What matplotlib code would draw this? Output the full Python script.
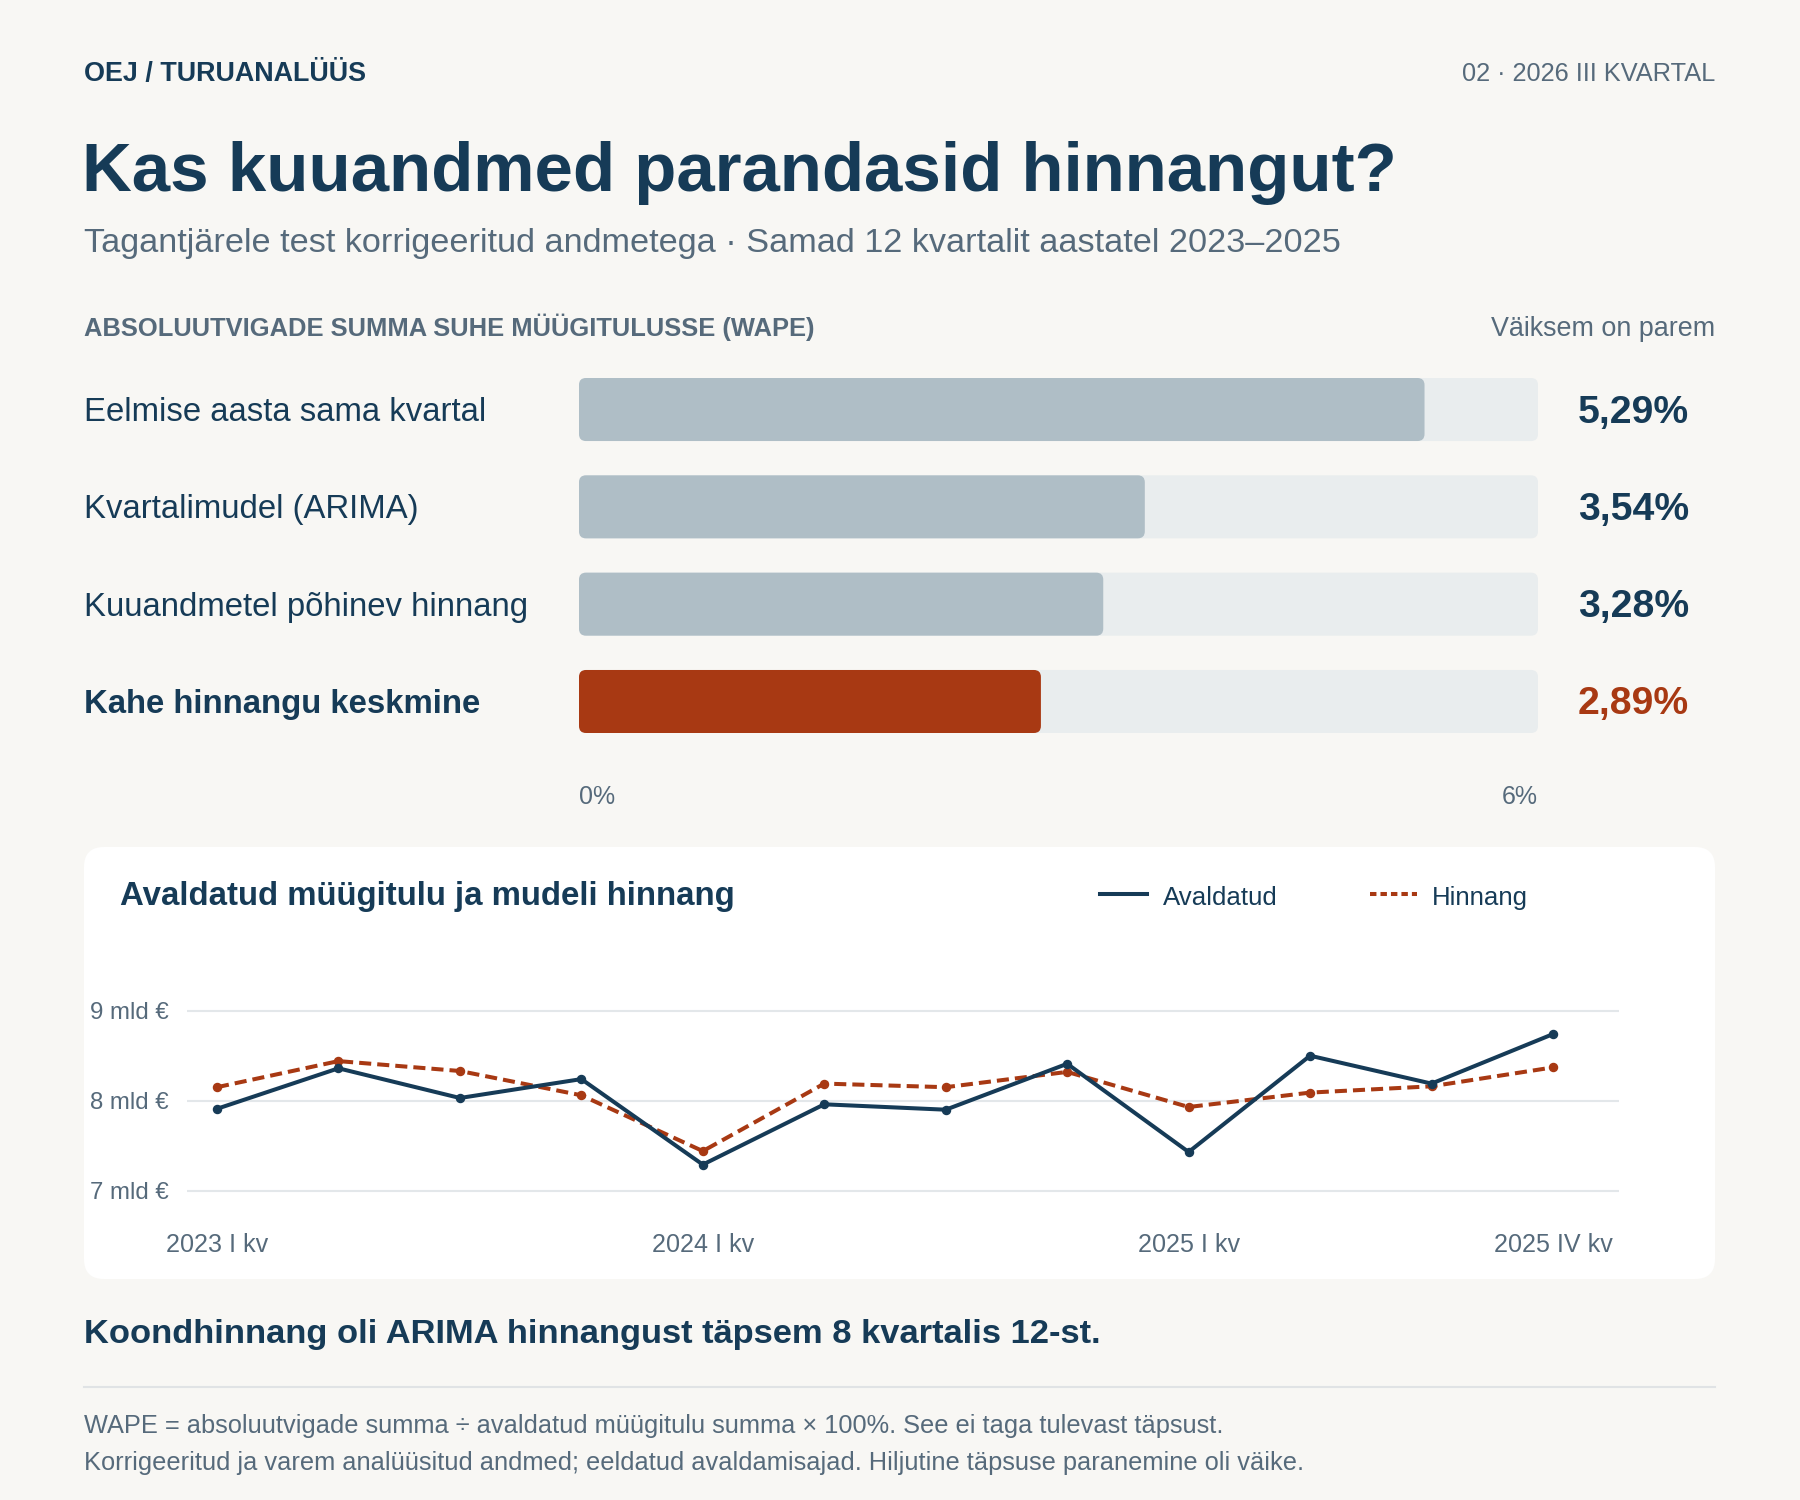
import matplotlib
matplotlib.use("Agg")
import matplotlib.pyplot as plt
from matplotlib.patches import FancyBboxPatch
from matplotlib.transforms import blended_transform_factory
from matplotlib.lines import Line2D

plt.rcParams['font.family'] = ['Liberation Sans', 'DejaVu Sans']

# --- data ---
methods = ["Eelmise aasta sama kvartal", "Kvartalimudel (ARIMA)",
           "Kuuandmetel põhinev hinnang", "Kahe hinnangu keskmine"]
wape = [5.29, 3.54, 3.28, 2.89]
wape_labels = ["5,29%", "3,54%", "3,28%", "2,89%"]
wape_max = 6

quarters = ["2023 I kv", "2023 II kv", "2023 III kv", "2023 IV kv",
            "2024 I kv", "2024 II kv", "2024 III kv", "2024 IV kv",
            "2025 I kv", "2025 II kv", "2025 III kv", "2025 IV kv"]
published = [7.91, 8.36, 8.03, 8.24, 7.29, 7.96, 7.90, 8.41, 7.43, 8.50, 8.19, 8.74]
estimate = [8.15, 8.44, 8.33, 8.06, 7.44, 8.19, 8.15, 8.32, 7.93, 8.09, 8.16, 8.37]
shown_ticks = [0, 4, 8, 11]
y_ticks = [7, 8, 9]
y_labels = ["7 mld €", "8 mld €", "9 mld €"]

# --- colours ---
BG = "#f8f7f4"
NAVY = "#163b57"
ORANGE = "#a83913"
GREY_TXT = "#566a7b"
BAR_GREY = "#afbec6"
TRACK = "#e9edee"
GRID = "#e3e7ea"

W, H = 1800, 1500
fig = plt.figure(figsize=(18, 15), dpi=100, facecolor=BG)


def fx(x):
    return x / W


def fy(y):
    return 1 - y / H


# full-figure canvas in pixel coords (y down)
bg = fig.add_axes([0, 0, 1, 1])
bg.set_xlim(0, W)
bg.set_ylim(H, 0)
bg.axis("off")
bg.set_zorder(0)

# header
bg.text(84, 81, "OEJ / TURUANALÜÜS", fontsize=19.4, fontweight="bold", color=NAVY, va="baseline")
bg.text(1715, 81, "02 · 2026 III KVARTAL", fontsize=18.3, color=GREY_TXT, va="baseline", ha="right")
bg.text(82, 191, "Kas kuuandmed parandasid hinnangut?", fontsize=49.7, fontweight="bold",
        color=NAVY, va="baseline")
bg.text(84, 252, "Tagantjärele test korrigeeritud andmetega · Samad 12 kvartalit aastatel 2023–2025",
        fontsize=24.7, color=GREY_TXT, va="baseline")
bg.text(84, 336, "ABSOLUUTVIGADE SUMMA SUHE MÜÜGITULUSSE (WAPE)", fontsize=18.4,
        fontweight="bold", color=GREY_TXT, va="baseline")
bg.text(1715, 336, "Väiksem on parem", fontsize=19.4, color=GREY_TXT, va="baseline", ha="right")

# --- bar block ---
bx0, bx1 = 579, 1538
row_gap = 97.3
top_px = 409.5 - 0.5 * row_gap
bot_px = 701.5 + 0.5 * row_gap
axb = fig.add_axes([fx(bx0), fy(bot_px), (bx1 - bx0) / W, (bot_px - top_px) / H])
axb.set_xlim(0, wape_max)
axb.set_ylim(len(methods) - 0.5, -0.5)
axb.axis("off")
axb.patch.set_alpha(0)

bar_h = 63 / row_gap
px_x = wape_max / (bx1 - bx0)
px_y = 1 / row_gap
aspect = px_y / px_x
rad = 7 * px_x
for i, v in enumerate(wape):
    fill = ORANGE if i == len(wape) - 1 else BAR_GREY
    axb.add_patch(FancyBboxPatch((0, i - bar_h / 2), wape_max, bar_h,
                                 boxstyle=f"round,pad=0,rounding_size={rad}",
                                 mutation_aspect=aspect, fc=TRACK, ec="none"))
    axb.add_patch(FancyBboxPatch((0, i - bar_h / 2), v, bar_h,
                                 boxstyle=f"round,pad=0,rounding_size={rad}",
                                 mutation_aspect=aspect, fc=fill, ec="none"))

trans = blended_transform_factory(bg.transData, axb.transData)
shift = 3 / row_gap
for i, (name, lab) in enumerate(zip(methods, wape_labels)):
    last = i == len(methods) - 1
    axb.text(84, i + shift, name, transform=trans, fontsize=23.7, color=NAVY, va="center",
             fontweight="bold" if last else "normal")
    axb.text(1578, i + shift, lab, transform=trans, fontsize=28.2, fontweight="bold",
             color=ORANGE if last else NAVY, va="center")

bg.text(bx0, 804, "0%", fontsize=18, color=GREY_TXT, va="baseline")
bg.text(bx1, 804, "6%", fontsize=18, color=GREY_TXT, va="baseline", ha="right")

# --- card with line chart ---
bg.add_patch(FancyBboxPatch((84, 847), 1715 - 84, 1279 - 847,
                            boxstyle="round,pad=0,rounding_size=20", fc="white", ec="none"))
bg.text(120, 905, "Avaldatud müügitulu ja mudeli hinnang", fontsize=23.8, fontweight="bold",
        color=NAVY, va="baseline")
bg.add_line(Line2D([1100, 1147], [894, 894], color=NAVY, lw=2.9))
bg.text(1163, 905, "Avaldatud", fontsize=18.6, color=NAVY, va="baseline")
bg.add_line(Line2D([1370, 1417], [894, 894], color=ORANGE, lw=2.9, dashes=(1.6, 1.0)))
bg.text(1432, 905, "Hinnang", fontsize=18.6, color=NAVY, va="baseline")

lx0, lx1 = 187, 1619
first_pt, last_pt = 217, 1553
step = (last_pt - first_pt) / (len(quarters) - 1)
ymin, ymax = 6.7, 9.4
per_unit = (1190.7 - 1010.7) / 2
ax_top = 1010.7 - (ymax - 9) * per_unit
ax_bot = 1190.7 + (7 - ymin) * per_unit
axl = fig.add_axes([fx(lx0), fy(ax_bot), (lx1 - lx0) / W, (ax_bot - ax_top) / H])
axl.patch.set_alpha(0)
xs = list(range(len(quarters)))
axl.set_xlim(-(first_pt - lx0) / step, len(quarters) - 1 + (lx1 - last_pt) / step)
axl.set_ylim(ymin, ymax)
for yv in y_ticks:
    axl.axhline(yv, color=GRID, lw=1.5, zorder=1)
axl.plot(xs, published, color=NAVY, lw=2.9, marker="o", ms=5.8, zorder=3)
axl.plot(xs, estimate, color=ORANGE, lw=2.9, marker="o", ms=5.8, dashes=(3.0, 1.5), zorder=2)
for s in axl.spines.values():
    s.set_visible(False)
axl.set_yticks(y_ticks)
axl.set_yticklabels(y_labels)
axl.set_xticks(shown_ticks)
axl.set_xticklabels([quarters[i] for i in shown_ticks])
axl.tick_params(axis="y", length=0, pad=13.5, labelsize=17.3, labelcolor=GREY_TXT)
axl.tick_params(axis="x", length=0, pad=11.3, labelsize=18.1, labelcolor=GREY_TXT)

# --- footer ---
bg.text(84, 1343, "Koondhinnang oli ARIMA hinnangust täpsem 8 kvartalis 12-st.", fontsize=24.8,
        fontweight="bold", color=NAVY, va="baseline")
bg.add_line(Line2D([84, 1715], [1387, 1387], color="#e0e3e5", lw=1.5))
bg.text(84, 1433, "WAPE = absoluutvigade summa ÷ avaldatud müügitulu summa × 100%. See ei taga tulevast täpsust.",
        fontsize=18.3, color=GREY_TXT, va="baseline")
bg.text(84, 1470, "Korrigeeritud ja varem analüüsitud andmed; eeldatud avaldamisajad. Hiljutine täpsuse paranemine oli väike.",
        fontsize=18.3, color=GREY_TXT, va="baseline")

fig.savefig("out.png", dpi=100, facecolor=BG)
